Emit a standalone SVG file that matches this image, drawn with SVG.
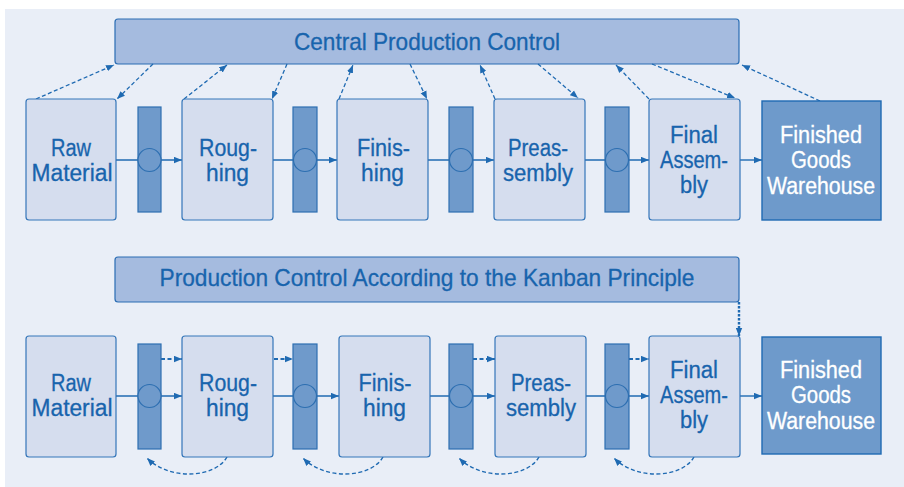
<svg xmlns="http://www.w3.org/2000/svg" width="904" height="487" viewBox="0 0 904 487">
  <defs>
    <marker id="ah" viewBox="0 0 10 8" refX="10" refY="4" markerWidth="8" markerHeight="7" markerUnits="userSpaceOnUse" orient="auto">
      <path d="M0,0 L10,4 L0,8 Z" fill="#1f6ab2"/>
    </marker>
    <style>
      .panel { fill: #e9eef7; }
      .ctrl { fill: #a5bbdf; stroke: #2a6db4; stroke-width: 1.2; }
      .proc { fill: #d5ddee; stroke: #3576b9; stroke-width: 1.2; }
      .bar { fill: #6f9acb; stroke: #2d6fb1; stroke-width: 1.2; }
      .store { fill: #6e9acb; stroke: #1e6ab3; stroke-width: 1.4; }
      .flow { fill: none; stroke: #1f6ab2; stroke-width: 1.4; }
      .info { fill: none; stroke: #1f6ab2; stroke-width: 1.3; stroke-dasharray: 4 2.5; }
      .kan { fill: none; stroke: #1f6ab2; stroke-width: 2.2; stroke-dasharray: 4 2.5; }
      .kanv { fill: none; stroke: #1f6ab2; stroke-width: 2.4; stroke-dasharray: 2.5 1.5; }
      .ret { fill: none; stroke: #1f6ab2; stroke-width: 1.4; stroke-dasharray: 4 2.5; }
      text { font-family: "Liberation Sans", Arial, sans-serif; text-anchor: middle; }
      .t { font-size: 23px; fill: #1864ad; stroke: #1864ad; stroke-width: 0.3; }
      .tw { font-size: 23px; fill: #ffffff; stroke: #ffffff; stroke-width: 0.3; }
      .h { font-size: 24px; fill: #1864ad; stroke: #1864ad; stroke-width: 0.3; }
    </style>
  </defs>

  <!-- backdrop -->
  <rect class="panel" x="5" y="9" width="899" height="478"/>

  <!-- ===== upper scheme: central production control ===== -->
  <g id="central-control">
    <rect class="ctrl" x="115" y="19" width="624" height="45" rx="3"/>
    <text class="h" x="427" y="50" textLength="266" lengthAdjust="spacingAndGlyphs">Central Production Control</text>
  </g>

  <g id="connectors-central">
    <!-- material flow -->
    <line class="flow" x1="116" y1="160" x2="182" y2="160" marker-end="url(#ah)"/>
    <line class="flow" x1="273" y1="160" x2="337" y2="160" marker-end="url(#ah)"/>
    <line class="flow" x1="428" y1="160" x2="494" y2="160" marker-end="url(#ah)"/>
    <line class="flow" x1="585" y1="160" x2="649" y2="160" marker-end="url(#ah)"/>
    <line class="flow" x1="740" y1="160" x2="762" y2="160" marker-end="url(#ah)"/>
    <!-- information flow to and from control -->
    <line class="info" x1="36" y1="99" x2="114" y2="65" marker-end="url(#ah)"/>
    <line class="info" x1="153" y1="64" x2="117" y2="99" marker-end="url(#ah)"/>
    <line class="info" x1="184" y1="99" x2="227" y2="65" marker-end="url(#ah)"/>
    <line class="info" x1="287" y1="64" x2="272" y2="99" marker-end="url(#ah)"/>
    <line class="info" x1="339" y1="99" x2="353" y2="65" marker-end="url(#ah)"/>
    <line class="info" x1="410" y1="64" x2="427" y2="99" marker-end="url(#ah)"/>
    <line class="info" x1="495" y1="99" x2="480" y2="65" marker-end="url(#ah)"/>
    <line class="info" x1="538" y1="64" x2="578" y2="98" marker-end="url(#ah)"/>
    <line class="info" x1="649" y1="99" x2="616" y2="65" marker-end="url(#ah)"/>
    <line class="info" x1="652" y1="64" x2="735" y2="98" marker-end="url(#ah)"/>
    <line class="info" x1="820" y1="101" x2="742" y2="65" marker-end="url(#ah)"/>
  </g>

  <g id="c-raw">
    <rect class="proc" x="26" y="99" width="90" height="121" rx="3"/>
    <text class="t" x="71" y="156" textLength="40" lengthAdjust="spacingAndGlyphs">Raw</text>
    <text class="t" x="72" y="181" textLength="81" lengthAdjust="spacingAndGlyphs">Material</text>
  </g>
  <g id="c-buf1">
    <rect class="bar" x="138" y="107" width="23" height="105"/>
    <circle class="bar" cx="149.5" cy="160" r="11.5"/>
  </g>
  <g id="c-rough">
    <rect class="proc" x="182" y="99" width="91" height="121" rx="3"/>
    <text class="t" x="228" y="156" textLength="58" lengthAdjust="spacingAndGlyphs">Roug-</text>
    <text class="t" x="227.5" y="181" textLength="43" lengthAdjust="spacingAndGlyphs">hing</text>
  </g>
  <g id="c-buf2">
    <rect class="bar" x="293" y="107" width="24" height="105"/>
    <circle class="bar" cx="305" cy="160" r="11.5"/>
  </g>
  <g id="c-finish">
    <rect class="proc" x="337" y="99" width="91" height="121" rx="3"/>
    <text class="t" x="383.5" y="156" textLength="53" lengthAdjust="spacingAndGlyphs">Finis-</text>
    <text class="t" x="382.5" y="181" textLength="43" lengthAdjust="spacingAndGlyphs">hing</text>
  </g>
  <g id="c-buf3">
    <rect class="bar" x="449" y="107" width="24" height="105"/>
    <circle class="bar" cx="461" cy="160" r="11.5"/>
  </g>
  <g id="c-preas">
    <rect class="proc" x="494" y="99" width="91" height="121" rx="3"/>
    <text class="t" x="538" y="156" textLength="60" lengthAdjust="spacingAndGlyphs">Preas-</text>
    <text class="t" x="538" y="181" textLength="70" lengthAdjust="spacingAndGlyphs">sembly</text>
  </g>
  <g id="c-buf4">
    <rect class="bar" x="605" y="107" width="24" height="105"/>
    <circle class="bar" cx="617" cy="160" r="11.5"/>
  </g>
  <g id="c-final">
    <rect class="proc" x="649" y="99" width="91" height="121" rx="3"/>
    <text class="t" x="694" y="143" textLength="48" lengthAdjust="spacingAndGlyphs">Final</text>
    <text class="t" x="694" y="168" textLength="68" lengthAdjust="spacingAndGlyphs">Assem-</text>
    <text class="t" x="694" y="193" textLength="28" lengthAdjust="spacingAndGlyphs">bly</text>
  </g>
  <g id="c-store">
    <rect class="store" x="762" y="101" width="119" height="119"/>
    <text class="tw" x="821" y="143" textLength="82" lengthAdjust="spacingAndGlyphs">Finished</text>
    <text class="tw" x="821" y="168" textLength="60" lengthAdjust="spacingAndGlyphs">Goods</text>
    <text class="tw" x="821" y="194" textLength="108" lengthAdjust="spacingAndGlyphs">Warehouse</text>
  </g>

  <!-- ===== lower scheme: kanban control ===== -->
  <g id="kanban-control">
    <rect class="ctrl" x="115" y="257" width="624" height="45" rx="3"/>
    <text class="h" x="427" y="286" textLength="535" lengthAdjust="spacingAndGlyphs">Production Control According to the Kanban Principle</text>
  </g>

  <g id="connectors-kanban">
    <!-- material flow -->
    <line class="flow" x1="116" y1="396" x2="182" y2="396" marker-end="url(#ah)"/>
    <line class="flow" x1="273" y1="396" x2="339" y2="396" marker-end="url(#ah)"/>
    <line class="flow" x1="430" y1="396" x2="495" y2="396" marker-end="url(#ah)"/>
    <line class="flow" x1="586" y1="396" x2="649" y2="396" marker-end="url(#ah)"/>
    <line class="flow" x1="740" y1="396" x2="762" y2="396" marker-end="url(#ah)"/>
    <!-- kanban pull signals -->
    <line class="kan" x1="161" y1="359" x2="182" y2="359" marker-end="url(#ah)"/>
    <line class="kan" x1="274" y1="359" x2="293" y2="359" marker-end="url(#ah)"/>
    <line class="kan" x1="473" y1="359" x2="495" y2="359" marker-end="url(#ah)"/>
    <line class="kan" x1="629" y1="359" x2="649" y2="359" marker-end="url(#ah)"/>
    <line class="kanv" x1="739" y1="302" x2="739" y2="336" marker-end="url(#ah)"/>
    <!-- withdrawal loops back to the buffers -->
    <path class="ret" d="M227,457 C215,478 170,481 147,458" marker-end="url(#ah)"/>
    <path class="ret" d="M383,457 C371,478 326,481 303,458" marker-end="url(#ah)"/>
    <path class="ret" d="M539,457 C527,478 482,481 459,458" marker-end="url(#ah)"/>
    <path class="ret" d="M694,457 C682,478 637,481 614,458" marker-end="url(#ah)"/>
  </g>

  <g id="k-raw">
    <rect class="proc" x="26" y="336" width="90" height="121" rx="3"/>
    <text class="t" x="71" y="391" textLength="40" lengthAdjust="spacingAndGlyphs">Raw</text>
    <text class="t" x="72" y="416" textLength="81" lengthAdjust="spacingAndGlyphs">Material</text>
  </g>
  <g id="k-buf1">
    <rect class="bar" x="138" y="344" width="23" height="105"/>
    <circle class="bar" cx="149.5" cy="396" r="11.5"/>
  </g>
  <g id="k-rough">
    <rect class="proc" x="182" y="336" width="91" height="121" rx="3"/>
    <text class="t" x="228" y="391" textLength="58" lengthAdjust="spacingAndGlyphs">Roug-</text>
    <text class="t" x="227.5" y="416" textLength="43" lengthAdjust="spacingAndGlyphs">hing</text>
  </g>
  <g id="k-buf2">
    <rect class="bar" x="293" y="344" width="24" height="105"/>
    <circle class="bar" cx="305" cy="396" r="11.5"/>
  </g>
  <g id="k-finish">
    <rect class="proc" x="339" y="336" width="91" height="121" rx="3"/>
    <text class="t" x="385" y="391" textLength="53" lengthAdjust="spacingAndGlyphs">Finis-</text>
    <text class="t" x="384.5" y="416" textLength="43" lengthAdjust="spacingAndGlyphs">hing</text>
  </g>
  <g id="k-buf3">
    <rect class="bar" x="449" y="344" width="24" height="105"/>
    <circle class="bar" cx="461" cy="396" r="11.5"/>
  </g>
  <g id="k-preas">
    <rect class="proc" x="495" y="336" width="91" height="121" rx="3"/>
    <text class="t" x="541" y="391" textLength="60" lengthAdjust="spacingAndGlyphs">Preas-</text>
    <text class="t" x="541" y="416" textLength="70" lengthAdjust="spacingAndGlyphs">sembly</text>
  </g>
  <g id="k-buf4">
    <rect class="bar" x="605" y="344" width="24" height="105"/>
    <circle class="bar" cx="617" cy="396" r="11.5"/>
  </g>
  <g id="k-final">
    <rect class="proc" x="649" y="336" width="91" height="121" rx="3"/>
    <text class="t" x="694" y="378" textLength="48" lengthAdjust="spacingAndGlyphs">Final</text>
    <text class="t" x="694" y="403" textLength="68" lengthAdjust="spacingAndGlyphs">Assem-</text>
    <text class="t" x="694" y="428" textLength="28" lengthAdjust="spacingAndGlyphs">bly</text>
  </g>
  <g id="k-store">
    <rect class="store" x="762" y="337" width="119" height="117"/>
    <text class="tw" x="821" y="378" textLength="82" lengthAdjust="spacingAndGlyphs">Finished</text>
    <text class="tw" x="821" y="403" textLength="60" lengthAdjust="spacingAndGlyphs">Goods</text>
    <text class="tw" x="821" y="429" textLength="108" lengthAdjust="spacingAndGlyphs">Warehouse</text>
  </g>
</svg>
